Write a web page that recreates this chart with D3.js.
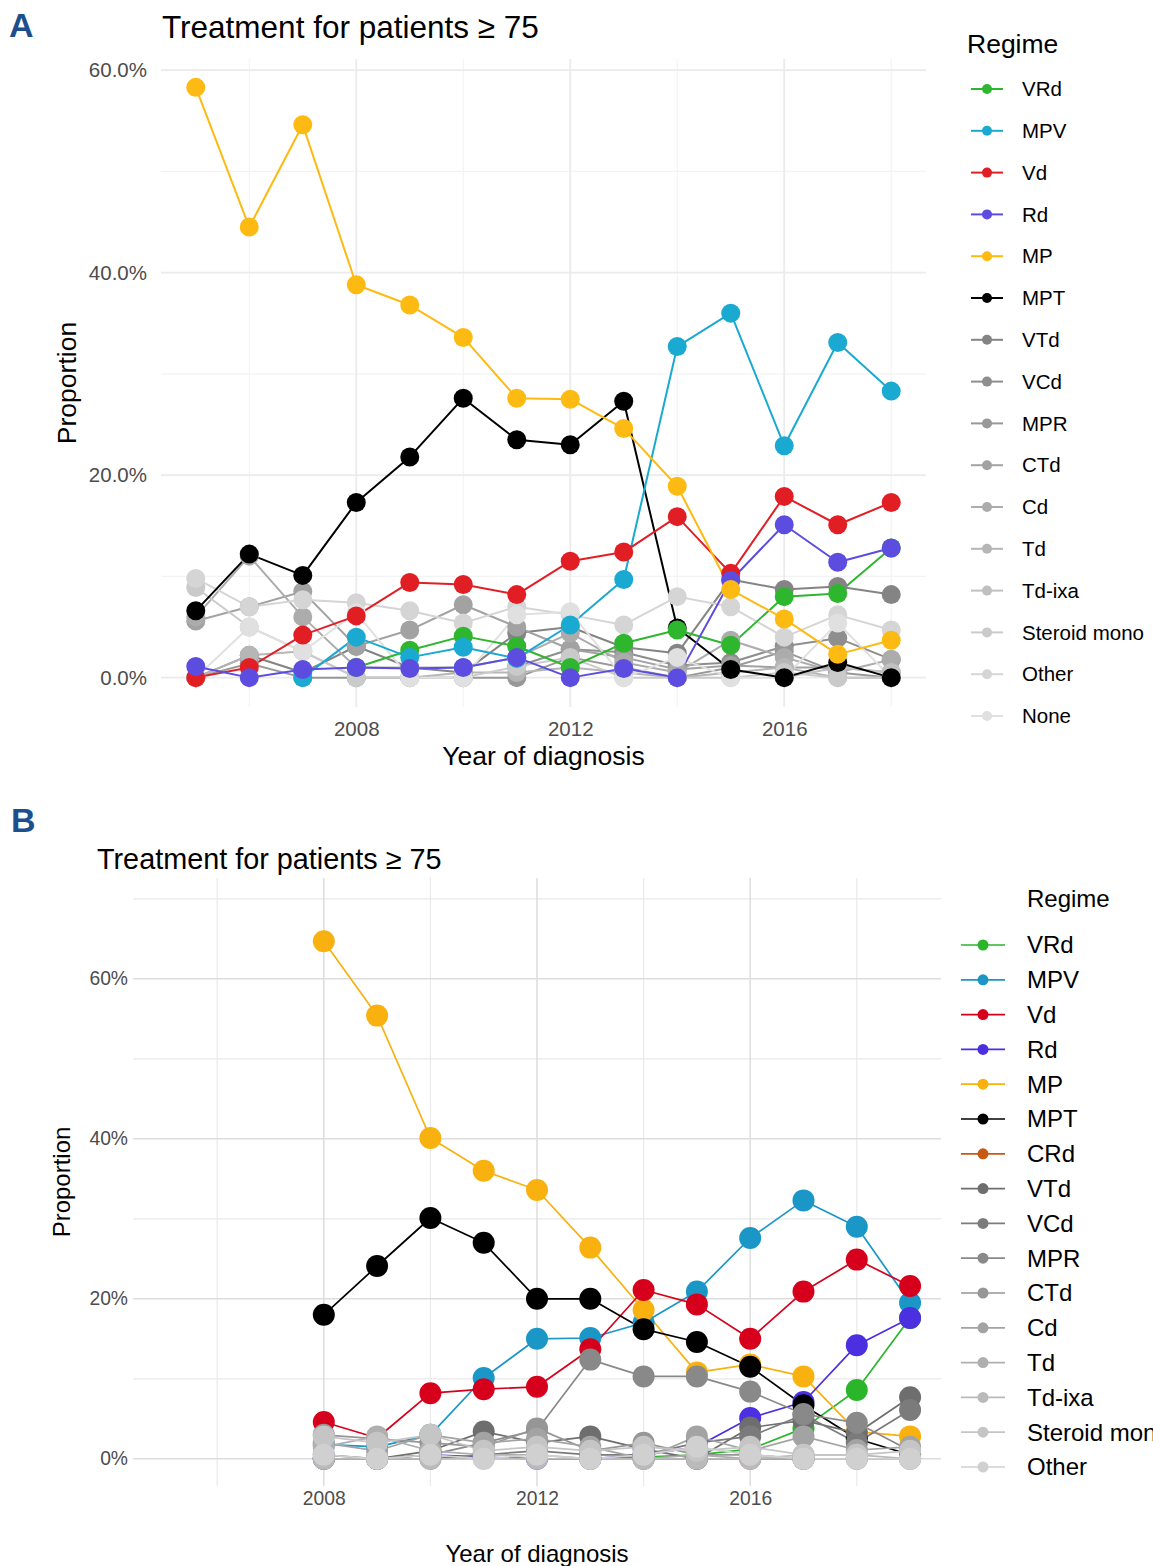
<!DOCTYPE html>
<html>
<head>
<meta charset="utf-8">
<script src="https://cdn.jsdelivr.net/npm/d3@7"></script>
<style>
  html, body { margin: 0; padding: 0; background: #ffffff; overflow: hidden; }
  svg { display: block; font-family: "Liberation Sans", Arial, Helvetica, sans-serif; }
</style>
</head>
<body>
<svg id="fig" width="1153" height="1566"></svg>
<script>
// ---------- Panel A: diagnoses 2005–2018 (proportions in %) ----------
const yearsA = [2005, 2006, 2007, 2008, 2009, 2010, 2011, 2012, 2013, 2014, 2015, 2016, 2017, 2018];
const regimesA = ["VRd", "MPV", "Vd", "Rd", "MP", "MPT", "VTd", "VCd", "MPR", "CTd", "Cd", "Td", "Td-ixa", "Steroid mono", "Other", "None"];
const coloursA = ["#2fb62f", "#1aa9d1", "#e21e25", "#5c4de0", "#fdba12", "#000000",
                  "#848484", "#8e8e8e", "#989898", "#a2a2a2", "#acacac", "#b6b6b6", "#c0c0c0", "#cacaca", "#d5d5d5", "#e0e0e0"];
const A_VRd   = [null, null, null, 1.0, 2.7, 4.1, 3.1, 1.0, 3.4, 4.7, 3.2, 8.0, 8.3, 12.8];
const A_MPV   = [null, null, 0.0, 4.0, 2.0, 3.0, 1.9, 5.2, 9.7, 32.7, 36.0, 22.9, 33.1, 28.3];
const A_Vd    = [0.0, 1.0, 4.2, 6.1, 9.4, 9.2, 8.2, 11.5, 12.4, 15.9, 10.3, 17.9, 15.1, 17.3];
const A_Rd    = [1.1, 0.0, 0.8, 1.0, 0.9, 1.0, 2.0, 0.0, 0.9, 0.0, 9.6, 15.1, 11.4, 12.8];
const A_MP    = [58.3, 44.5, 54.6, 38.8, 36.8, 33.6, 27.6, 27.5, 24.6, 18.9, 8.7, 5.8, 2.3, 3.7];
const A_MPT   = [6.6, 12.2, 10.1, 17.3, 21.8, 27.6, 23.5, 23.0, 27.3, 4.9, 0.8, 0.0, 1.5, 0.0];
const A_VTd   = [0.0, 2.2, 0.5, 3.1, 1.0, 0.5, 4.4, 5.0, 3.0, 2.4, 9.7, 8.7, 9.0, 8.2];
const A_VCd   = [null, null, null, null, null, null, 1.1, 2.8, 2.5, 1.2, 1.5, 3.1, 3.9, 1.8];
const A_MPR   = [0.0, 1.4, 0.0, 0.0, 0.0, 0.0, 0.0, 2.0, 1.0, 0.0, 1.0, 2.6, 0.5, 0.0];
const A_CTd   = [5.6, 7.0, 8.5, 3.1, 4.7, 7.2, 5.0, 2.8, 2.0, 0.8, 1.2, 1.0, 1.0, 0.5];
const A_Cd    = [6.0, 12.0, 6.0, 1.0, 1.0, 1.0, 2.0, 4.4, 1.5, 0.5, 3.7, 2.0, 0.5, 1.8];
const A_Td    = [0.0, 2.2, 2.6, 0.0, 0.0, 0.5, 0.5, 1.0, 0.5, 0.0, 0.5, 1.0, 0.0, 0.0];
const A_TdIxa = [null, null, null, null, null, null, null, null, null, null, null, 0.0, 1.0, 0.5];
const A_Ster  = [8.9, 5.0, 2.6, 0.0, 0.0, 0.0, 1.1, 2.0, 0.0, 0.0, 0.0, 0.5, 0.0, 0.0];
const A_Other = [9.8, 7.0, 7.7, 7.4, 6.6, 5.4, 7.0, 6.2, 5.2, 8.0, 7.0, 4.0, 6.2, 4.7];
const A_None  = [0.0, 5.0, 2.6, 6.4, 0.0, 0.0, 6.2, 6.5, 0.0, 2.0, 0.0, 0.0, 5.4, 0.0];
const valuesA = [A_VRd, A_MPV, A_Vd, A_Rd, A_MP, A_MPT, A_VTd, A_VCd, A_MPR, A_CTd, A_Cd, A_Td, A_TdIxa, A_Ster, A_Other, A_None];
const yTicksA = [0, 20, 40, 60];
const yTickLabelsA = ["0.0%", "20.0%", "40.0%", "60.0%"];
const yMinorA = [10, 30, 50];
const xTicksA = [2008, 2012, 2016];
const xTickLabelsA = ["2008", "2012", "2016"];
const xMinorA = [2006, 2010, 2014, 2018];

// ---------- Panel B: diagnoses 2008–2019 ----------
const yearsB = [2008, 2009, 2010, 2011, 2012, 2013, 2014, 2015, 2016, 2017, 2018, 2019];
const regimesB = ["VRd", "MPV", "Vd", "Rd", "MP", "MPT", "CRd", "VTd", "VCd", "MPR", "CTd", "Cd", "Td", "Td-ixa", "Steroid mono", "Other"];
const coloursB = ["#2bb52b", "#1a96c7", "#d6001c", "#4b2fe0", "#f9b10f", "#000000", "#c65a12",
                  "#6e6e6e", "#7b7b7b", "#898989", "#969696", "#a3a3a3", "#afafaf", "#bababa", "#c5c5c5", "#d0d0d0"];
const B_VRd   = [null, null, null, null, null, 0.0, 0.2, 0.5, 1.2, 3.8, 8.6, 17.6];
const B_MPV   = [1.8, 1.5, 3.0, 10.1, 15.0, 15.1, 17.0, 20.9, 27.6, 32.3, 29.0, 19.5];
const B_Vd    = [4.6, 2.6, 8.2, 8.7, 9.0, 13.7, 21.1, 19.3, 15.0, 20.9, 24.9, 21.6];
const B_Rd    = [0.0, 0.0, 0.5, 0.2, 0.0, 0.0, 0.5, 1.5, 5.1, 7.1, 14.2, 17.6];
const B_MP    = [64.7, 55.4, 40.1, 36.0, 33.6, 26.4, 18.6, 10.8, 11.8, 10.3, 3.4, 2.8];
const B_MPT   = [18.0, 24.1, 30.1, 27.0, 20.0, 20.0, 16.2, 14.6, 11.5, 6.7, 2.5, 0.5];
const B_CRd   = [null, null, null, null, null, null, 0.0, 0.0, 0.0, 0.0, null, null];
const B_VTd   = [0.5, 0.0, 1.0, 3.4, 2.0, 2.8, 1.2, 0.0, 3.9, 4.8, 3.2, 7.7];
const B_VCd   = [0.0, 0.0, 0.0, 0.5, 1.0, 0.5, 0.5, 2.0, 2.8, 5.5, 2.0, 6.1];
const B_MPR   = [0.0, 0.0, 0.5, 2.0, 3.6, 12.4, 10.3, 10.3, 8.4, 5.6, 4.5, 1.0];
const B_CTd   = [3.0, 2.5, 2.0, 1.5, 3.8, 1.0, 2.0, 0.5, 0.5, 0.0, 0.0, 0.0];
const B_Cd    = [2.0, 1.0, 3.0, 2.0, 2.5, 1.5, 0.0, 2.8, 1.0, 2.8, 1.1, 1.5];
const B_Td    = [1.5, 2.8, 1.0, 0.5, 0.5, 0.0, 0.0, 0.5, 0.0, 0.0, 0.0, 0.0];
const B_TdIxa = [0.0, 0.0, 0.0, 0.0, 0.0, 0.0, 0.0, 0.0, 0.0, 0.5, 0.5, 0.0];
const B_Ster  = [2.8, 2.0, 3.0, 1.0, 1.5, 1.0, 1.5, 1.0, 1.5, 0.5, 0.5, 1.0];
const B_Other = [0.5, 0.0, 0.5, 0.0, 0.5, 0.0, 0.5, 1.5, 0.5, 0.0, 0.0, 0.0];
const valuesB = [B_VRd, B_MPV, B_Vd, B_Rd, B_MP, B_MPT, B_CRd, B_VTd, B_VCd, B_MPR, B_CTd, B_Cd, B_Td, B_TdIxa, B_Ster, B_Other];
const yTicksB = [0, 20, 40, 60];
const yTickLabelsB = ["0%", "20%", "40%", "60%"];
const yMinorB = [10, 30, 50, 70];
const xTicksB = [2008, 2012, 2016];
const xTickLabelsB = ["2008", "2012", "2016"];
const xMinorB = [2006, 2010, 2014, 2018];

const titleText = "Treatment for patients \u2265 75";

const svg = d3.select("#fig");
svg.append("rect").attr("width", 1153).attr("height", 1566).attr("fill", "#ffffff");

function drawPanel(p) {
  const g = svg.append("g");
  const x = d3.scaleLinear().domain(p.xDomain).range([p.left, p.right]);
  const y = d3.scaleLinear().domain(p.yDomain).range([p.bottom, p.top]);

  // grid
  const grid = g.append("g");
  grid.selectAll("line.ymin").data(p.yMinor).join("line")
    .attr("x1", p.left).attr("x2", p.right).attr("y1", d => y(d)).attr("y2", d => y(d))
    .attr("stroke", p.minorGrid).attr("stroke-width", p.minorW);
  grid.selectAll("line.xmin").data(p.xMinor).join("line")
    .attr("y1", p.top).attr("y2", p.bottom).attr("x1", d => x(d)).attr("x2", d => x(d))
    .attr("stroke", p.minorGrid).attr("stroke-width", p.minorW);
  grid.selectAll("line.ymaj").data(p.yTicks).join("line")
    .attr("x1", p.left).attr("x2", p.right).attr("y1", d => y(d)).attr("y2", d => y(d))
    .attr("stroke", p.majorGrid).attr("stroke-width", p.majorW);
  grid.selectAll("line.xmaj").data(p.xTicks).join("line")
    .attr("y1", p.top).attr("y2", p.bottom).attr("x1", d => x(d)).attr("x2", d => x(d))
    .attr("stroke", p.majorGrid).attr("stroke-width", p.majorW);

  // axes (labels only)
  const yAxis = d3.axisLeft(y).tickValues(p.yTicks).tickSize(0).tickPadding(p.yPad)
    .tickFormat((d, i) => p.yTickLabels[i]);
  const ya = g.append("g").attr("transform", `translate(${p.left},0)`).call(yAxis);
  ya.select(".domain").remove();
  ya.selectAll("text").attr("fill", "#4d4d4d").attr("font-size", p.tickSize)
    .attr("font-family", "Liberation Sans, Arial, sans-serif");

  const xAxis = d3.axisBottom(x).tickValues(p.xTicks).tickSize(0).tickPadding(p.xPad)
    .tickFormat((d, i) => p.xTickLabels[i]);
  const xa = g.append("g").attr("transform", `translate(0,${p.bottom})`).call(xAxis);
  xa.select(".domain").remove();
  xa.selectAll("text").attr("fill", "#4d4d4d").attr("font-size", p.tickSize)
    .attr("font-family", "Liberation Sans, Arial, sans-serif");

  // series
  const series = p.regimes.map((name, i) => ({
    name, colour: p.colours[i],
    pts: p.years.map((yr, j) => ({ yr, v: p.values[i][j] })).filter(d => d.v !== null)
  }));
  const ordered = p.order.map(n => series.find(s => s.name === n));
  const line = d3.line().x(d => x(d.yr)).y(d => y(d.v));
  const lines = g.append("g");
  ordered.forEach(s => {
    lines.append("path").datum(s.pts).attr("d", line).attr("fill", "none")
      .attr("stroke", s.colour).attr("stroke-width", p.lineW).attr("stroke-linejoin", "round");
  });
  const dots = g.append("g");
  ordered.forEach(s => {
    dots.selectAll(null).data(s.pts).join("circle")
      .attr("cx", d => x(d.yr)).attr("cy", d => y(d.v)).attr("r", p.pointR).attr("fill", s.colour);
  });

  // titles
  g.append("text").attr("x", p.titleX).attr("y", p.titleY).attr("font-size", p.titleSize)
    .attr("fill", "#000").text(titleText);
  g.append("text").attr("x", (p.left + p.right) / 2).attr("y", p.xTitleY).attr("text-anchor", "middle")
    .attr("font-size", p.axisTitleSize).attr("fill", "#000").text("Year of diagnosis");
  g.append("text").attr("transform", `translate(${p.yTitleX},${(p.top + p.bottom) / 2}) rotate(-90)`)
    .attr("text-anchor", "middle").attr("font-size", p.axisTitleSize).attr("fill", "#000").text("Proportion");

  // legend
  const lg = g.append("g");
  lg.append("text").attr("x", p.legTitleX).attr("y", p.legTitleY).attr("font-size", p.legTitleSize)
    .attr("fill", "#000").text("Regime");
  series.forEach((s, i) => {
    const cy = p.legY0 + i * p.legStep;
    lg.append("line").attr("x1", p.keyX1).attr("x2", p.keyX2).attr("y1", cy).attr("y2", cy)
      .attr("stroke", s.colour).attr("stroke-width", p.lineW);
    lg.append("circle").attr("cx", (p.keyX1 + p.keyX2) / 2).attr("cy", cy).attr("r", p.keyR).attr("fill", s.colour);
    lg.append("text").attr("x", p.legLabelX).attr("y", cy).attr("dy", "0.35em")
      .attr("font-size", p.legLabelSize).attr("fill", "#000").text(s.name);
  });

  // panel tag
  g.append("text").attr("x", p.tagX).attr("y", p.tagY).attr("font-size", 34).attr("font-weight", "bold")
    .attr("fill", "#1c4f8c").text(p.tag);
}

drawPanel({
  tag: "A", tagX: 9, tagY: 37,
  years: yearsA, regimes: regimesA, colours: coloursA, values: valuesA,
  order: ["VTd", "VCd", "MPR", "CTd", "Cd", "Td", "Td-ixa", "Steroid mono", "Other", "None", "MPT", "VRd", "MPV", "Vd", "Rd", "MP"],
  xDomain: [2004.35, 2018.65], yDomain: [-2.9, 61.1],
  left: 161, right: 926, top: 59, bottom: 707,
  yTicks: yTicksA, yTickLabels: yTickLabelsA, yMinor: yMinorA,
  xTicks: xTicksA, xTickLabels: xTickLabelsA, xMinor: xMinorA,
  majorGrid: "#ebebeb", minorGrid: "#f3f3f3", majorW: 1.8, minorW: 1.1,
  yPad: 14, xPad: 14, tickSize: 20.5,
  lineW: 2, pointR: 9.5,
  titleX: 162, titleY: 38, titleSize: 31.5,
  xTitleY: 765, yTitleX: 76, axisTitleSize: 26.5,
  legTitleX: 967, legTitleY: 53, legTitleSize: 26.5,
  legY0: 89, legStep: 41.8, keyX1: 971, keyX2: 1003, keyR: 5,
  legLabelX: 1022, legLabelSize: 20.5
});

drawPanel({
  tag: "B", tagX: 11, tagY: 832,
  years: yearsB, regimes: regimesB, colours: coloursB, values: valuesB,
  order: ["VRd", "MPV", "MP", "Vd", "Rd", "MPT", "CRd", "VTd", "VCd", "MPR", "CTd", "Cd", "Td", "Td-ixa", "Steroid mono", "Other"],
  xDomain: [2004.42, 2019.58], yDomain: [-3.4, 72.6],
  left: 133, right: 941, top: 878, bottom: 1486,
  yTicks: yTicksB, yTickLabels: yTickLabelsB, yMinor: yMinorB,
  xTicks: xTicksB, xTickLabels: xTickLabelsB, xMinor: xMinorB,
  majorGrid: "#dddddd", minorGrid: "#e9e9e9", majorW: 1.5, minorW: 1.2,
  yPad: 5, xPad: 5, tickSize: 19.3,
  lineW: 1.7, pointR: 11,
  titleX: 97, titleY: 869, titleSize: 28.8,
  xTitleY: 1562, yTitleX: 70, axisTitleSize: 24,
  legTitleX: 1027, legTitleY: 907, legTitleSize: 24,
  legY0: 945, legStep: 34.8, keyX1: 961, keyX2: 1005, keyR: 5.5,
  legLabelX: 1027, legLabelSize: 24
});
</script>
</body>
</html>
